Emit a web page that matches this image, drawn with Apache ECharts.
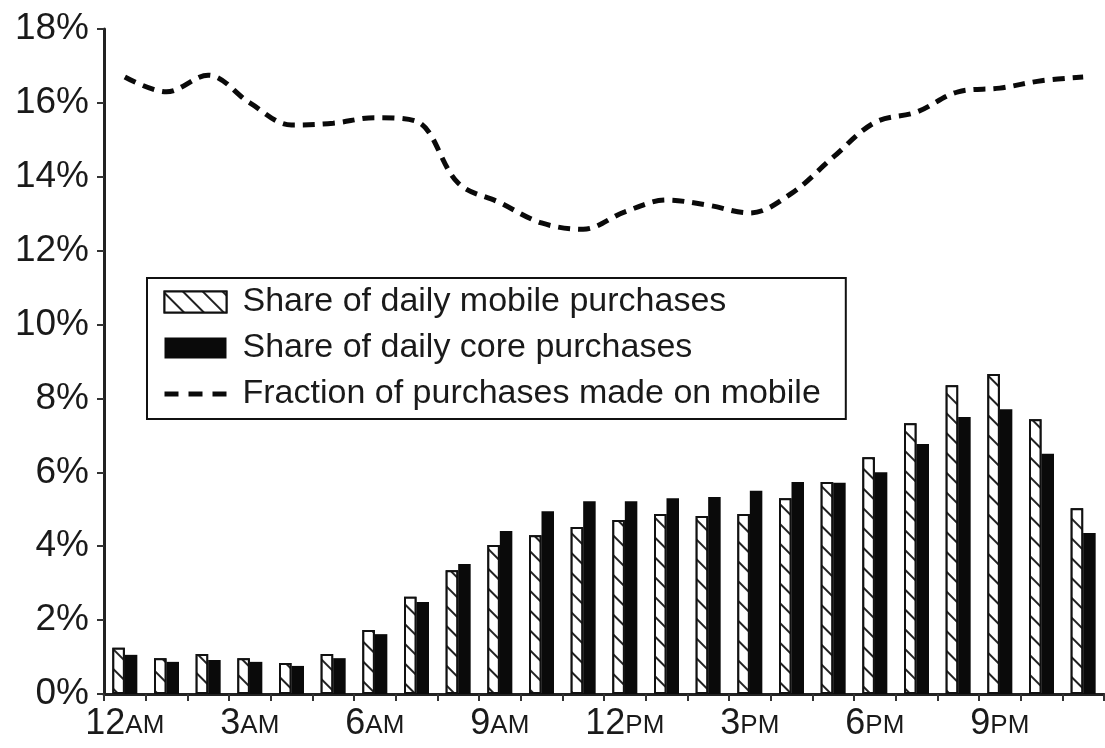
<!DOCTYPE html>
<html>
<head>
<meta charset="utf-8">
<script src="https://cdn.jsdelivr.net/npm/echarts@6/dist/echarts.min.js"></script>
<style>
html,body{margin:0;padding:0;background:#fff;}
#chart{width:1105px;height:748px;}
</style>
</head>
<body>
<div id="chart"></div>
<script>
const hours = ['12AM','1AM','2AM','3AM','4AM','5AM','6AM','7AM','8AM','9AM','10AM','11AM',
               '12PM','1PM','2PM','3PM','4PM','5PM','6PM','7PM','8PM','9PM','10PM','11PM'];
const mobileShare = [1.25,0.97,1.08,0.97,0.84,1.08,1.73,2.63,3.35,4.03,4.3,4.52,
                     4.71,4.87,4.82,4.87,5.3,5.74,6.41,7.33,8.36,8.66,7.44,5.03];
const coreShare = [1.06,0.87,0.92,0.87,0.76,0.97,1.62,2.49,3.52,4.41,4.95,5.22,
                   5.22,5.3,5.33,5.5,5.74,5.72,6.0,6.77,7.5,7.71,6.5,4.36];
const mobileFraction = [16.7,16.3,16.75,16.0,15.4,15.45,15.6,15.5,13.83,13.3,12.75,12.58,
                        13.05,13.37,13.23,13.02,13.55,14.53,15.47,15.75,16.3,16.4,16.6,16.7];
const yTicks = [0,2,4,6,8,10,12,14,16,18];
const seriesNames = ['Share of daily mobile purchases','Share of daily core purchases','Fraction of purchases made on mobile'];

const FONT = '"Liberation Sans", Arial, Helvetica, sans-serif';
const chart = echarts.init(document.getElementById('chart'), null, {renderer:'canvas'});

function hourLabel(v){
  const m = v.match(/^(\d+)(AM|PM)$/);
  return '{n|' + m[1] + '}{s|' + m[2] + '}';
}

const hatchDecal = {symbol:'rect', symbolSize:1, color:'#222', backgroundColor:'#fff',
                    dashArrayX:[1,0], dashArrayY:[2,12], rotation:Math.PI/4};

chart.setOption({
  animation:false,
  backgroundColor:'#fff',
  grid:{left:104, right:1, top:29, bottom:54, containLabel:false},
  legend:{
    orient:'vertical',
    left:147, top:278,
    borderColor:'#111', borderWidth:2,
    padding:[7,25,8,15],
    itemWidth:62, itemHeight:21,
    itemGap:12,
    data:[
      {name:seriesNames[0], icon:'rect'},
      {name:seriesNames[1], icon:'rect'},
      {name:seriesNames[2],
       itemStyle:{color:'rgba(0,0,0,0)', borderColor:'rgba(0,0,0,0)', borderWidth:0, opacity:0},
       lineStyle:{color:'#0a0a0a', width:5, type:[14,10]}}
    ],
    textStyle:{fontFamily:FONT, fontSize:34, color:'#1a1a1a', lineHeight:34, padding:[0,0,0,11]}
  },
  xAxis:{
    type:'category',
    data:hours,
    boundaryGap:true,
    axisLine:{lineStyle:{color:'#222', width:3}},
    axisTick:{show:true, interval:0, length:7, lineStyle:{color:'#333', width:2}},
    axisLabel:{
      interval:2, margin:12, color:'#1a1a1a',
      formatter:hourLabel,
      rich:{
        n:{fontFamily:FONT, fontSize:36, color:'#1a1a1a'},
        s:{fontFamily:FONT, fontSize:26, color:'#1a1a1a', padding:[4,0,0,0]}
      }
    },
    splitLine:{show:false}
  },
  yAxis:{
    type:'value',
    min:yTicks[0], max:yTicks[yTicks.length-1], interval:2,
    axisLine:{show:true, lineStyle:{color:'#222', width:3}},
    axisTick:{show:true, length:7, lineStyle:{color:'#333', width:2}},
    axisLabel:{formatter:'{value}%', fontFamily:FONT, fontSize:37, color:'#1a1a1a', margin:15},
    splitLine:{show:false}
  },
  series:[
    {
      name:seriesNames[0], type:'bar', data:mobileShare,
      barGap:'0%', barCategoryGap:'40%',
      itemStyle:{color:'#fff', borderColor:'#111', borderWidth:2, decal:hatchDecal}
    },
    {
      name:seriesNames[1], type:'bar', data:coreShare,
      itemStyle:{color:'#0a0a0a'}
    },
    {
      name:seriesNames[2], type:'line', data:mobileFraction,
      symbol:'none', smooth:0.35,
      lineStyle:{color:'#0a0a0a', width:5, type:[12,8]},
      itemStyle:{color:'#0a0a0a'}
    }
  ]
});
</script>
</body>
</html>
